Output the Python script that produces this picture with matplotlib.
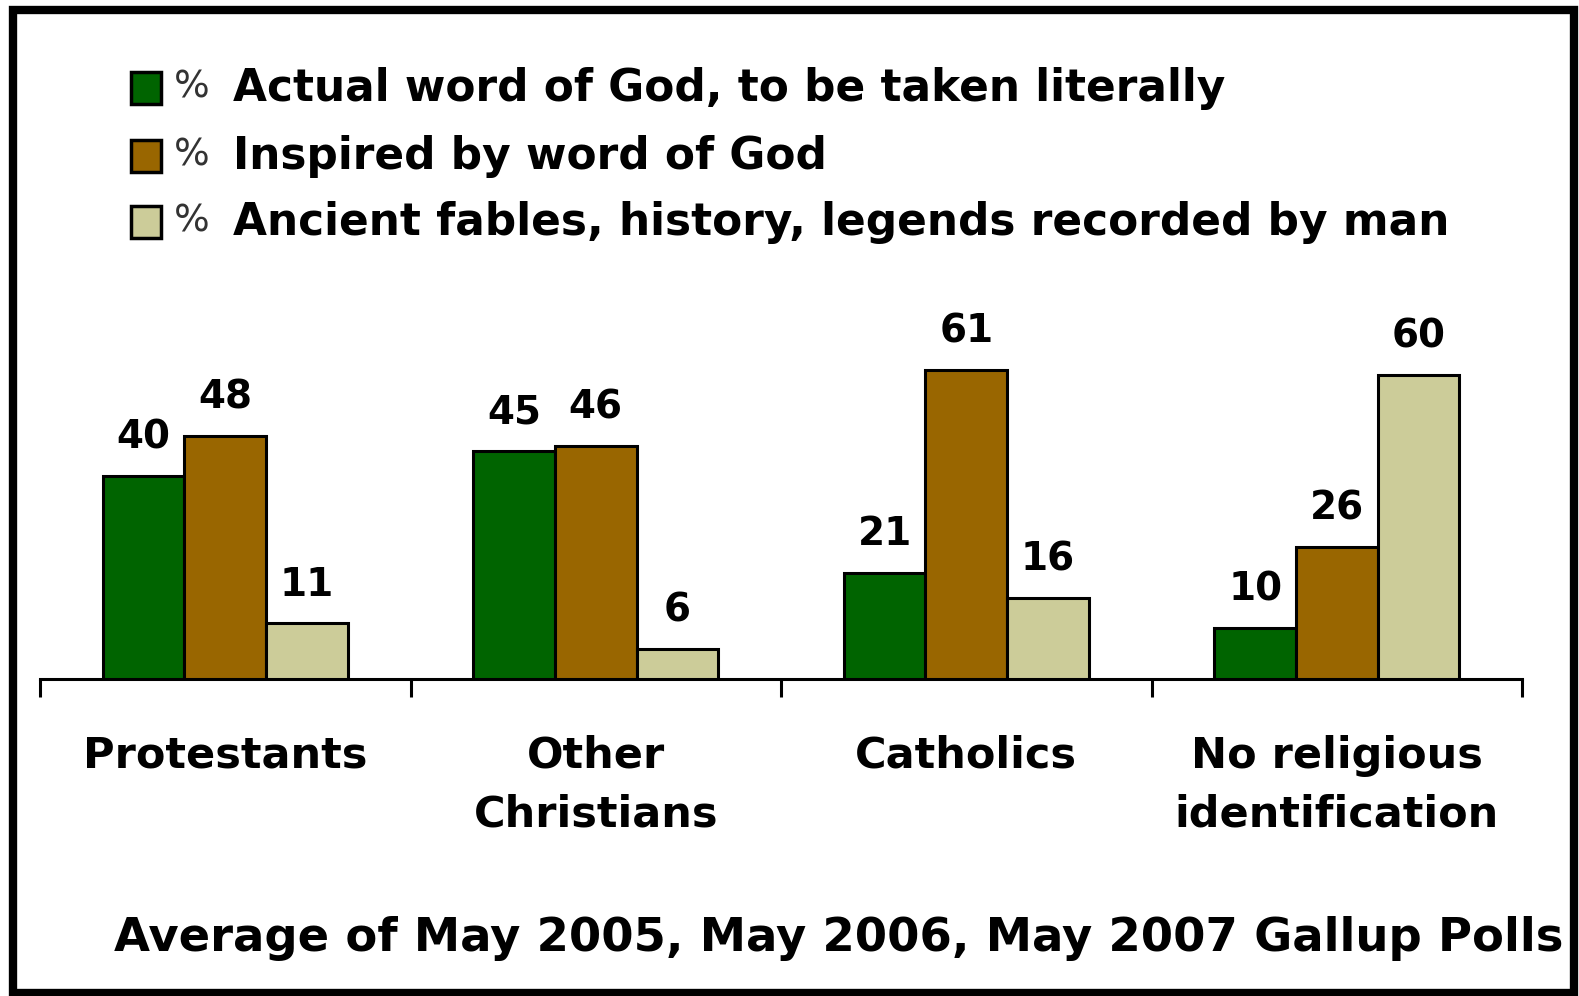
import numpy as np
import matplotlib
matplotlib.use("Agg")
import matplotlib.pyplot as plt
from matplotlib.patches import Rectangle

categories = ["Protestants", "Other\nChristians", "Catholics", "No religious\nidentification"]
series_names = ["Actual word of God, to be taken literally",
                "Inspired by word of God",
                "Ancient fables, history, legends recorded by man"]
literal = [40, 45, 21, 10]
inspired = [48, 46, 61, 26]
fables = [11, 6, 16, 60]
caption = "Average of May 2005, May 2006, May 2007 Gallup Polls"

colors = ["#006400", "#996600", "#CCCC99"]

plt.rcParams["font.family"] = ["DejaVu Sans"]

W, H = 1579, 996
fig = plt.figure(figsize=(W / 100, H / 100), dpi=100)

# axes: baseline at y=679 px, spans x 40..1522 px
ymax = 70
px_per_unit = 5.07
ax_h = ymax * px_per_unit
ax = fig.add_axes([40 / W, (H - 679) / H, (1522 - 40) / W, ax_h / H])

x = np.arange(len(categories))
bw = 0.22
for k, (vals, col) in enumerate(zip([literal, inspired, fables], colors)):
    bars = ax.bar(x + (k - 1) * bw, vals, width=bw, color=col,
                  edgecolor="black", linewidth=2.2, zorder=3)
    ax.bar_label(bars, padding=14, fontsize=28, fontweight="bold")

ax.set_xlim(-0.5, len(categories) - 0.5)
ax.set_ylim(0, ymax)
for s in ["top", "right", "left"]:
    ax.spines[s].set_visible(False)
ax.spines["bottom"].set_linewidth(2.2)
ax.set_yticks([])
ax.set_xticks(np.arange(len(categories) + 1) - 0.5)
ax.set_xticklabels([])
ax.tick_params(axis="x", length=13, width=2.2, direction="out")

for i, cat in enumerate(categories):
    ax.text(i, -11.0, cat, ha="center", va="top", fontsize=31,
            fontweight="bold", linespacing=1.5)

# legend
rows_y = [88, 156, 222]
for name, col, yy in zip(series_names, colors, rows_y):
    fig.patches.append(Rectangle((131 / W, (H - yy - 16) / H), 30 / W, 32 / H,
                                 transform=fig.transFigure, facecolor=col,
                                 edgecolor="black", linewidth=2.5))
    fig.text(174 / W, (H - yy) / H, "%", fontsize=27, color="#333333",
             va="center", ha="left")
    fig.text(233 / W, (H - yy) / H, name, fontsize=31.6, fontweight="bold",
             va="center", ha="left")

fig.text(114 / W, (H - 938) / H, caption, fontsize=33.5, fontweight="bold",
         va="center", ha="left")

# outer frame
fig.patches.append(Rectangle((13 / W, 3 / H), (1574 - 13) / W, (H - 13) / H,
                             transform=fig.transFigure, fill=False,
                             edgecolor="black", linewidth=6))

fig.savefig("out.png", dpi=100)
